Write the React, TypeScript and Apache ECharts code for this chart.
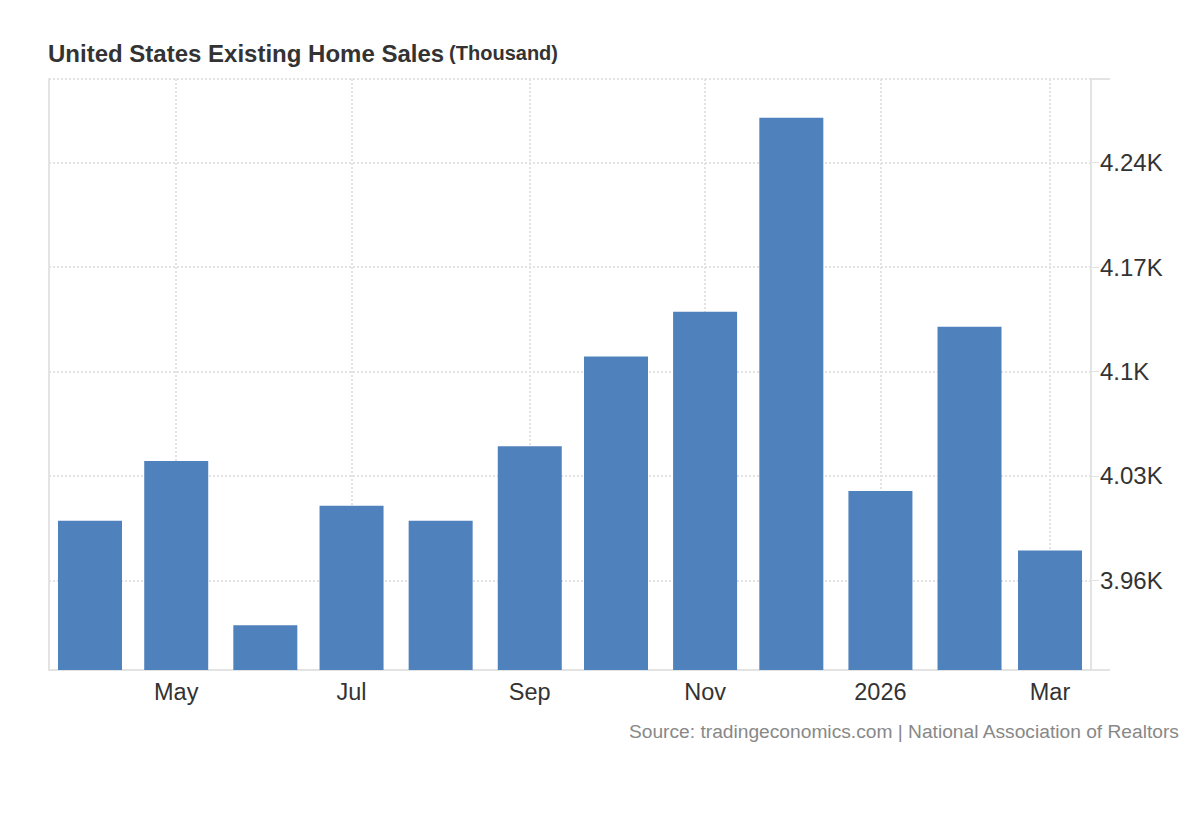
import { useEffect, useRef } from "react";
import * as echarts from "echarts";

const months = [
  "2025-04-01", "2025-05-01", "2025-06-01", "2025-07-01", "2025-08-01", "2025-09-01",
  "2025-10-01", "2025-11-01", "2025-12-01", "2026-01-01", "2026-02-01", "2026-03-01",
];
const sales = [4.0, 4.04, 3.93, 4.01, 4.0, 4.05, 4.11, 4.14, 4.27, 4.02, 4.13, 3.98];
const yTicks = [3.96, 4.03, 4.1, 4.17, 4.24];
const xTickDates = ["2025-05-01", "2025-07-01", "2025-09-01", "2025-11-01", "2026-01-01", "2026-03-01"];
const xTickLabels = ["May", "Jul", "Sep", "Nov", "2026", "Mar"];
const yMin = 3.9;
const yMax = 4.296;

const FONT = "'Liberation Sans', Arial, Helvetica, sans-serif";
const DAY = 86400000;
const AXIS_COLOR = "#e3e3e3";
const GRID_COLOR = "#e3e3e3";

export default function App() {
  const ref = useRef<HTMLDivElement>(null);

  useEffect(() => {
    if (!ref.current) return;
    const chart = echarts.init(ref.current, null, { renderer: "svg" });
    const xTickVals = xTickDates.map((d) => Date.parse(d));
    const labelFor = (v: number) => {
      let best = "";
      let bestD = Infinity;
      xTickVals.forEach((t, i) => {
        const d = Math.abs(t - v);
        if (d < bestD) {
          bestD = d;
          best = xTickLabels[i];
        }
      });
      return bestD < DAY ? best : "";
    };
    const xMin = Date.parse(months[0]) - 14.26 * DAY;
    const xMax = Date.parse(months[months.length - 1]) + 14.26 * DAY;

    const option: any = {
      animation: false,
      backgroundColor: "#ffffff",
      title: {
        left: 43,
        top: 36,
        text: "{a|United States Existing Home Sales} {b|(Thousand)}",
        textStyle: {
          rich: {
            a: { fontSize: 24, fontWeight: "bold", color: "#333333", fontFamily: FONT },
            b: { fontSize: 20, fontWeight: "bold", color: "#333333", fontFamily: FONT },
          },
        },
      },
      grid: { left: 49, right: 109, top: 79, bottom: 150, containLabel: false },
      xAxis: {
        type: "value",
        min: xMin,
        max: xMax,
        axisLine: { show: true, lineStyle: { color: AXIS_COLOR, width: 2 } },
        axisTick: { show: false, customValues: xTickVals },
        axisLabel: {
          customValues: xTickVals,
          formatter: (v: number) => labelFor(v),
          fontSize: 23.5,
          color: "#333333",
          fontFamily: FONT,
          margin: 10,
        },
        splitLine: { show: true, lineStyle: { color: GRID_COLOR, width: 2, type: [2, 2] } },
      },
      yAxis: [
        {
          type: "value",
          position: "right",
          min: yMin,
          max: yMax,
          axisLine: { show: true, lineStyle: { color: AXIS_COLOR, width: 2 } },
          axisTick: {
            show: true,
            length: 8,
            customValues: [...yTicks, yMax],
            lineStyle: { color: AXIS_COLOR, width: 1 },
          },
          axisLabel: {
            customValues: yTicks,
            formatter: (v: number) => `${parseFloat(v.toFixed(2))}K`,
            fontSize: 24,
            color: "#333333",
            fontFamily: FONT,
            margin: 9,
          },
          splitLine: { show: true, lineStyle: { color: GRID_COLOR, width: 2, type: [2, 2] } },
        },
        {
          type: "value",
          position: "left",
          min: yMin,
          max: yMax,
          axisLine: { show: true, lineStyle: { color: AXIS_COLOR, width: 2 } },
          axisTick: { show: false },
          axisLabel: { show: false },
          splitLine: { show: false },
        },
      ],
      series: [
        {
          type: "bar",
          yAxisIndex: 0,
          barWidth: 64,
          itemStyle: { color: "#4f81bd" },
          data: months.map((m, i) => [Date.parse(m), sales[i]]),
        },
      ],
      graphic: [
        {
          type: "line",
          shape: { x1: 1091, y1: 79, x2: 1110, y2: 79 },
          style: { stroke: AXIS_COLOR, lineWidth: 2 },
        },
        {
          type: "line",
          shape: { x1: 1091, y1: 670, x2: 1110, y2: 670 },
          style: { stroke: AXIS_COLOR, lineWidth: 2 },
        },
        {
          type: "text",
          right: 20,
          top: 722,
          style: {
            text: "Source: tradingeconomics.com | National Association of Realtors",
            fontSize: 19.2,
            fill: "#888888",
            fontFamily: FONT,
          },
        },
      ],
    };
    chart.setOption(option);
    return () => chart.dispose();
  }, []);

  return (
    <div
      ref={ref}
      style={{ position: "fixed", left: 0, top: 0, width: 1200, height: 820, background: "#fff" }}
    />
  );
}
